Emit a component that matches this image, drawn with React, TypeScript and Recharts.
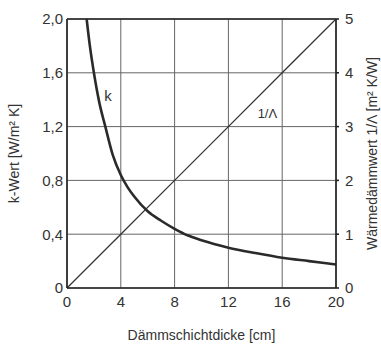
import { LineChart, Line, XAxis, YAxis, CartesianGrid, ReferenceLine, ReferenceDot } from 'recharts'

// Dämmschichtdicke [cm] -> k-Wert [W/m² K]
const kThickness = [1.46, 1.7, 2.0, 2.4, 2.85, 3.4, 4, 4.5, 5, 6, 7, 8, 9, 10, 12, 14, 16, 18, 20]
const kValues = [2.0, 1.8, 1.6, 1.38, 1.2, 0.99, 0.84, 0.75, 0.68, 0.57, 0.5, 0.44, 0.39, 0.355, 0.3, 0.26, 0.225, 0.2, 0.175]

// Dämmschichtdicke [cm] -> Wärmedämmwert 1/Λ [m² K/W]
const rThickness = [0, 4, 8, 12, 16, 20]
const rValues = [0, 1, 2, 3, 4, 5]

const xTicks = [0, 4, 8, 12, 16, 20]
const kTicks = [0, 0.4, 0.8, 1.2, 1.6, 2.0]
const rTicks = [0, 1, 2, 3, 4, 5]

const kData = kThickness.map((d, i) => ({ d, k: kValues[i] }))
const rData = rThickness.map((d, i) => ({ d, r: rValues[i] }))

const font = "'Liberation Sans', Arial, sans-serif"
const textColor = '#333'
const tickStyle = { fontSize: 15, fill: textColor, fontFamily: font }
const labelStyle = { fontSize: 14, fill: textColor, fontFamily: font }

const fmtK = (v: number) => (v === 0 ? '0' : v.toFixed(1).replace('.', ','))

export default function App() {
  return (
    <div style={{ position: 'absolute', left: 0, top: 0, background: '#fff' }}>
      <LineChart width={381} height={344} margin={{ top: 19, right: 0, bottom: 0, left: 0 }}>
        <CartesianGrid stroke="#666" strokeWidth={1} yAxisId="left" horizontalValues={kTicks} verticalValues={xTicks} />
        <XAxis
          dataKey="d"
          type="number"
          domain={[0, 20]}
          ticks={xTicks}
          allowDuplicatedCategory={false}
          height={56}
          stroke="#222"
          strokeWidth={1.6}
          tickLine={false}
          tickSize={0}
          tickMargin={8}
          tick={tickStyle}
          label={{ value: 'Dämmschichtdicke [cm]', position: 'insideBottom', offset: 4, style: labelStyle }}
        />
        <YAxis
          yAxisId="left"
          type="number"
          domain={[0, 2]}
          ticks={kTicks}
          width={67}
          stroke="#222"
          strokeWidth={1.6}
          tickLine={false}
          tickSize={0}
          tickMargin={4}
          tickFormatter={fmtK}
          tick={tickStyle}
          label={{ value: 'k-Wert [W/m² K]', angle: -90, position: 'center', dx: -19, style: labelStyle }}
        />
        <YAxis
          yAxisId="right"
          orientation="right"
          type="number"
          domain={[0, 5]}
          ticks={rTicks}
          width={45}
          stroke="#222"
          strokeWidth={1.6}
          tickSize={3}
          tickMargin={6}
          tick={tickStyle}
          label={{ value: 'Wärmedämmwert 1/Λ [m² K/W]', angle: -90, position: 'center', dx: 14, style: labelStyle }}
        />
        <ReferenceLine yAxisId="left" y={2} stroke="#222" strokeWidth={1.6} />
        <Line
          yAxisId="right"
          data={rData}
          dataKey="r"
          type="linear"
          stroke="#333"
          strokeWidth={1.3}
          dot={false}
          isAnimationActive={false}
        />
        <Line
          yAxisId="left"
          data={kData}
          dataKey="k"
          type="monotone"
          stroke="#2a2a2a"
          strokeWidth={2.6}
          dot={false}
          isAnimationActive={false}
        />
        <ReferenceDot
          yAxisId="left"
          x={3.05}
          y={1.43}
          r={0}
          label={{ value: 'k', position: 'center', style: { fontSize: 15, fill: textColor, fontFamily: font } }}
        />
        <ReferenceDot
          yAxisId="right"
          x={14.9}
          y={3.25}
          r={0}
          label={{ value: '1/Λ', position: 'center', style: { fontSize: 13, fill: textColor, fontFamily: font } }}
        />
      </LineChart>
    </div>
  )
}
